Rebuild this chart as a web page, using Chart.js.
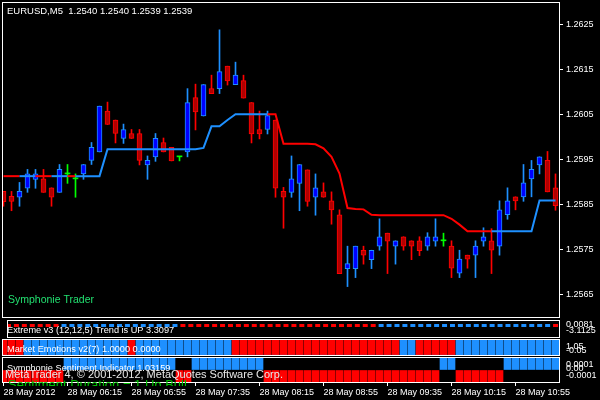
<!DOCTYPE html>
<html>
<head>
<meta charset="utf-8">
<script src="https://cdn.jsdelivr.net/npm/chart.js@4.4.0/dist/chart.umd.min.js"></script>
<style>
html, body { margin: 0; padding: 0; background: #000; }
#wrap { position: relative; width: 600px; height: 400px; overflow: hidden; background: #000; }
#wrap canvas { position: absolute; left: 0; top: 0; }
</style>
</head>
<body>
<div id="wrap">
  <canvas id="cMain" width="600" height="400"></canvas>
  <canvas id="cExt" width="600" height="400"></canvas>
  <canvas id="cEmo" width="600" height="400"></canvas>
  <canvas id="cSent" width="600" height="400"></canvas>
</div>
<script>
// EURUSD M5, 70 bars
var opens = [1.25879,1.25868,1.25866,1.25886,1.25906,1.25907,1.25887,1.25877,1.25918,1.25907,
  1.25918,1.25948,1.25967,1.26058,1.26038,1.25997,1.26008,1.26008,1.25938,1.25956,
  1.25988,1.25977,1.25956,1.25967,1.26088,1.26047,1.26108,1.26108,1.26158,1.26117,
  1.26126,1.26077,1.26017,1.26017,1.26038,1.25879,1.25877,1.25897,1.25927,1.25866,
  1.25878,1.25858,1.25827,1.25707,1.25707,1.25748,1.25727,1.25757,1.25786,1.25757,
  1.25778,1.25769,1.25769,1.25757,1.25768,1.25769,1.25757,1.25697,1.25737,1.25737,
  1.25768,1.25769,1.25757,1.25827,1.25867,1.25867,1.25907,1.25938,1.25948,1.25887];
var highs = [1.25879,1.25879,1.25899,1.25928,1.25928,1.25928,1.25887,1.25939,1.25939,1.25918,
  1.25939,1.25988,1.26069,1.26078,1.26038,1.26029,1.26017,1.26017,1.25958,1.26008,
  1.25998,1.25977,1.25956,1.26108,1.26118,1.26117,1.26138,1.26239,1.26158,1.26167,
  1.26138,1.26077,1.26058,1.26058,1.26038,1.25888,1.25958,1.25939,1.25927,1.25918,
  1.25898,1.25878,1.25838,1.25757,1.25757,1.25757,1.25748,1.25818,1.25786,1.25769,
  1.25778,1.25769,1.25778,1.25787,1.25818,1.25786,1.25769,1.25748,1.25737,1.25769,
  1.25798,1.25796,1.25858,1.25887,1.25867,1.25939,1.25948,1.25956,1.25968,1.25918];
var lows = [1.25846,1.25836,1.25846,1.25877,1.25886,1.25877,1.25846,1.25877,1.25897,1.25866,
  1.25906,1.25939,1.25967,1.26028,1.25987,1.25986,1.25997,1.25938,1.25906,1.25946,
  1.25967,1.25947,1.25947,1.25956,1.26016,1.26047,1.26097,1.26097,1.26116,1.26117,
  1.26087,1.25987,1.25996,1.26007,1.25866,1.25797,1.25866,1.25836,1.25846,1.25826,
  1.25866,1.25806,1.25696,1.25667,1.25687,1.25717,1.25707,1.25748,1.25696,1.25717,
  1.25748,1.25727,1.25736,1.25748,1.25757,1.25757,1.25687,1.25687,1.25708,1.25687,
  1.25757,1.25696,1.25737,1.25817,1.25838,1.25857,1.25867,1.25918,1.25878,1.25837];
var closes = [1.25856,1.25857,1.25879,1.25918,1.25918,1.25877,1.25866,1.25928,1.25918,1.25907,
  1.25939,1.25977,1.26069,1.26028,1.26008,1.26017,1.25997,1.25948,1.25948,1.25997,
  1.25967,1.25947,1.25956,1.26077,1.26056,1.26117,1.26097,1.26146,1.26125,1.26138,
  1.26087,1.26007,1.26007,1.26048,1.25886,1.25866,1.25907,1.25939,1.25857,1.25887,
  1.25866,1.25838,1.25696,1.25718,1.25757,1.25737,1.25748,1.25778,1.25768,1.25769,
  1.25757,1.25757,1.25747,1.25778,1.25778,1.25769,1.25708,1.25728,1.25728,1.25757,
  1.25778,1.25748,1.25838,1.25858,1.25858,1.25898,1.25928,1.25956,1.25878,1.25847];

// trailing stop line of "Symphonie Trader" and its colour (1 = up/blue, -1 = down/red)
var stopLine = [1.25913,1.25913,1.25913,1.25913,1.25913,1.25913,1.25913,1.25913,1.25913,1.25913,
  1.25913,1.25913,1.25913,1.25973,1.25973,1.25973,1.25973,1.25973,1.25973,1.25973,
  1.25973,1.25973,1.25973,1.25973,1.25973,1.25976,1.26024,1.26024,1.26038,1.26051,
  1.26051,1.26051,1.26051,1.26051,1.26051,1.25985,1.25985,1.25985,1.25985,1.25984,
  1.25975,1.25956,1.25919,1.25842,1.25840,1.25839,1.25827,1.25826,1.25826,1.25826,
  1.25826,1.25826,1.25826,1.25826,1.25826,1.25826,1.25818,1.25805,1.25790,1.25790,
  1.25790,1.25790,1.25790,1.25790,1.25790,1.25790,1.25790,1.25859,1.25859,1.25859];
var stopTrend = [-1,-1,1,1,-1,-1,1,1,-1,1, 1,1,1,1,1,1,1,1,1,1, 1,1,1,1,1,1,1,1,1,1,
  1,1,1,-1,-1,-1,-1,-1,-1,-1, -1,-1,-1,-1,-1,-1,-1,-1,-1,-1, -1,-1,-1,-1,-1,-1,-1,-1,-1,-1,
  -1,1,1,1,1,1,1,1,1,1];

// Extreme v3 trend dashes
var extremeTrend = [-1,-1,-1,-1,-1,-1,-1,1,1,1, 1,1,1,1,1,1,1,1,1,1, 1,1,-1,-1,-1,-1,-1,-1,-1,-1,
  -1,-1,-1,-1,-1,-1,-1,-1,-1,-1, -1,-1,-1,-1,-1,-1,-1,1,1,1, 1,1,1,1,1,1,1,1,1,1,
  1,1,1,1,1,1,1,1,1,-1];
var extremeLevel = -0.95;

// Market Emotions v2(7): 1 = bull block, -1 = bear block
var emotions = [-1,-1,-1,1,1,1,1,1,1,1, 1,1,1,1,1,1,-1,1,1,1, 1,1,1,1,1,1,1,1,1,-1,
  -1,-1,-1,-1,-1,-1,-1,-1,-1,-1, -1,-1,-1,-1,-1,-1,-1,-1,-1,-1, 1,1,-1,-1,-1,-1,-1,1,1,1,
  1,1,1,1,1,1,1,1,1,1];

// Symphonie Sentiment histogram
var sentiment = [-0.0001,-0.0001,-0.0001,-0.0001,-0.0001,-0.0001,-0.0001,-0.0001,0.0001,0.0001,
  0.0001,0.0001,0.0001,0.0001,0.0001,0.0001,0.0001,0.0001,0.0001,0.0001,
  0.0001,0.0001,-0.0001,-0.0001,0.0001,0.0001,0.0001,0.0001,0.0001,0.0001,
  0.0001,0.0001,0.0001,-0.0001,-0.0001,-0.0001,-0.0001,-0.0001,-0.0001,-0.0001,
  -0.0001,-0.0001,-0.0001,-0.0001,-0.0001,-0.0001,-0.0001,-0.0001,-0.0001,-0.0001,
  -0.0001,-0.0001,-0.0001,-0.0001,-0.0001,0.0001,0.0001,-0.0001,-0.0001,-0.0001,
  -0.0001,-0.0001,-0.0001,0.0001,0.0001,0.0001,0.0001,0.0001,0.0001,0.0001];

var priceTicks = [1.2565, 1.2575, 1.2585, 1.2595, 1.2605, 1.2615, 1.2625];
var timeTickBars = [0, 8, 16, 24, 32, 40, 48, 56, 64];
var timeLabels = ["28 May 2012", "28 May 06:15", "28 May 06:55", "28 May 07:35", "28 May 08:15",
  "28 May 08:55", "28 May 09:35", "28 May 10:15", "28 May 10:55"];

var extLabels = ["0.0081", "-3.1125"];
var emoLabels = ["1.05", "-0.05"];
var sentLabels = ["0.0001", "0.00", "-0.0001"];

var RED = '#ff0000', BLUE = '#1e90ff';
var X_MIN = -0.1875, X_MAX = 69.5625;
var FONT = '"Liberation Sans", Arial, sans-serif';

Chart.defaults.font.family = FONT;
Chart.defaults.font.size = 9;
Chart.defaults.color = '#ffffff';

function candleKind(i) {
  if (closes[i] > opens[i]) return 1;
  if (closes[i] < opens[i]) return -1;
  return 0;
}

function hiddenX() {
  return {
    type: 'linear', min: X_MIN, max: X_MAX, display: false, offset: false,
    afterFit: function (s) { s.height = 0; s.paddingLeft = 0; s.paddingRight = 0; }
  };
}

function sideY(min, max) {
  return {
    position: 'right', min: min, max: max,
    grid: { drawOnChartArea: false, drawTicks: false },
    border: { display: false },
    ticks: { display: false },
    afterFit: function (s) { s.width = 40; s.paddingTop = 0; s.paddingBottom = 0; }
  };
}

var frame = {
  id: 'frame',
  afterDraw: function (chart) {
    var a = chart.chartArea, ctx = chart.ctx;
    ctx.save();
    ctx.strokeStyle = '#ffffff';
    ctx.lineWidth = 1;
    ctx.strokeRect(a.left + 0.5, a.top + 0.5, a.right - a.left - 1, a.bottom - a.top - 1);
    ctx.restore();
  }
};

function notes(items) {
  return {
    id: 'notes',
    afterDraw: function (chart) {
      var ctx = chart.ctx;
      items.forEach(function (t) {
        ctx.save();
        if (t.clip) {
          ctx.beginPath();
          ctx.rect(t.clip[0], t.clip[1], t.clip[2], t.clip[3]);
          ctx.clip();
        }
        ctx.font = t.font;
        ctx.fillStyle = t.color || '#ffffff';
        ctx.textBaseline = 'middle';
        ctx.textAlign = 'left';
        ctx.fillText(t.text, t.x, t.y);
        ctx.restore();
      });
    }
  };
}

// MT4 squeezes the min/max labels of a small window inside it, so they overlap
function sideLabels(texts, ys) {
  return {
    id: 'sideLabels',
    afterDraw: function (chart) {
      var ctx = chart.ctx, a = chart.chartArea;
      ctx.save();
      ctx.font = '9px ' + FONT;
      ctx.fillStyle = '#ffffff';
      ctx.textBaseline = 'middle';
      texts.forEach(function (t, k) { ctx.fillText(t, a.right + 6, ys[k]); });
      ctx.restore();
    }
  };
}

function baseOptions(pad) {
  return {
    responsive: false,
    animation: false,
    events: [],
    layout: { padding: pad },
    plugins: { legend: { display: false }, tooltip: { enabled: false } }
  };
}

// ---------- main price window ----------
var idx = opens.map(function (v, i) { return i; });

var mainOpts = baseOptions({ left: 2, top: 2, right: 0, bottom: 82 });
mainOpts.scales = {
  x: hiddenX(),
  y: {
    position: 'right', min: 1.25597, max: 1.26301,
    afterBuildTicks: function (s) { s.ticks = priceTicks.map(function (v) { return { value: v }; }); },
    ticks: { padding: 3, color: '#ffffff', callback: function (v) { return Number(v).toFixed(4); } },
    grid: { drawOnChartArea: false, drawTicks: true, tickLength: 3, color: '#ffffff' },
    border: { display: false },
    afterFit: function (s) { s.width = 40; s.paddingTop = 0; s.paddingBottom = 0; }
  }
};

new Chart(document.getElementById('cMain'), {
  data: {
    datasets: [
      {
        type: 'line', order: 0,
        data: idx.map(function (i) { return { x: i, y: stopLine[i] }; }),
        borderWidth: 2, pointRadius: 0, tension: 0, borderColor: BLUE,
        segment: { borderColor: function (c) { return stopTrend[c.p0DataIndex] > 0 ? BLUE : RED; } }
      },
      {
        type: 'bar', order: 1, grouped: false, barThickness: 5, minBarLength: 1,
        data: idx.map(function (i) { return { x: i, y: [opens[i], closes[i]] }; }),
        backgroundColor: idx.map(function (i) { var k = candleKind(i); return k > 0 ? '#0000ff' : (k < 0 ? '#b00000' : '#00ff00'); }),
        borderColor: idx.map(function (i) { var k = candleKind(i); return k > 0 ? BLUE : (k < 0 ? RED : '#00ff00'); }),
        borderWidth: idx.map(function (i) { return candleKind(i) === 0 ? 0 : 1; }),
        borderSkipped: false
      },
      {
        type: 'bar', order: 2, grouped: false, barThickness: 1,
        data: idx.map(function (i) { return { x: i, y: [lows[i], highs[i]] }; }),
        backgroundColor: idx.map(function (i) { var k = candleKind(i); return k > 0 ? BLUE : (k < 0 ? RED : '#00ff00'); })
      }
    ]
  },
  options: mainOpts,
  plugins: [frame, notes([
    { text: 'EURUSD,M5  1.2540 1.2540 1.2539 1.2539', x: 7, y: 11, font: '9.5px ' + FONT, color: '#ffffff' },
    { text: 'Symphonie Trader', x: 8, y: 300, font: '10.5px ' + FONT, color: '#22e070' }
  ])]
});

// ---------- Extreme v3 ----------
var extOpts = baseOptions({ left: 2, top: 320, right: 0, bottom: 62 });
extOpts.scales = { x: hiddenX(), y: sideY(-3.1125, 0.0081) };
new Chart(document.getElementById('cExt'), {
  type: 'line',
  data: {
    datasets: [{
      data: idx.map(function (i) { return { x: i, y: extremeLevel }; }),
      showLine: false, pointStyle: 'line', pointRadius: 2.5, pointBorderWidth: 3,
      pointBorderColor: extremeTrend.map(function (d) { return d > 0 ? BLUE : RED; })
    }]
  },
  options: extOpts,
  plugins: [frame, sideLabels(extLabels, [325, 330.5]), notes([
    { text: 'Extreme v3 (12,12,5) Trend is UP 3.3097', x: 7, y: 330, font: '9.2px ' + FONT }
  ])]
});

// ---------- Market Emotions ----------
var emoOpts = baseOptions({ left: 2, top: 339, right: 0, bottom: 44 });
emoOpts.scales = { x: hiddenX(), y: sideY(-0.05, 1.05) };
new Chart(document.getElementById('cEmo'), {
  type: 'bar',
  data: {
    datasets: [
      { grouped: false, barThickness: 7, backgroundColor: BLUE,
        data: idx.map(function (i) { return { x: i, y: emotions[i] > 0 ? 1 : 0 }; }) },
      { grouped: false, barThickness: 7, backgroundColor: RED,
        data: idx.map(function (i) { return { x: i, y: emotions[i] < 0 ? 1 : 0 }; }) }
    ]
  },
  options: emoOpts,
  plugins: [frame, sideLabels(emoLabels, [346.5, 351]), notes([
    { text: 'Market Emotions v2(7) 1.0000 0.0000', x: 7, y: 349.5, font: '9.2px ' + FONT }
  ])]
});

// ---------- Symphonie Sentiment + time axis ----------
var sentOpts = baseOptions({ left: 2, top: 357, right: 0, bottom: 0 });
sentOpts.scales = {
  x: {
    type: 'linear', min: X_MIN, max: X_MAX, position: 'bottom', offset: false,
    afterBuildTicks: function (s) { s.ticks = timeTickBars.map(function (v) { return { value: v }; }); },
    ticks: {
      align: 'start', padding: 1, autoSkip: false, maxRotation: 0, minRotation: 0, color: '#ffffff',
      callback: function (v, i) { return timeLabels[i]; }
    },
    grid: { drawOnChartArea: false, drawTicks: true, tickLength: 3, color: '#ffffff', offset: false },
    border: { display: false },
    afterFit: function (s) { s.height = 17; s.paddingLeft = 0; s.paddingRight = 0; }
  },
  y: sideY(-0.0001, 0.0001)
};
new Chart(document.getElementById('cSent'), {
  type: 'bar',
  data: {
    datasets: [{
      grouped: false, barThickness: 7,
      data: idx.map(function (i) { return { x: i, y: sentiment[i] }; }),
      backgroundColor: sentiment.map(function (v) { return v > 0 ? BLUE : RED; })
    }]
  },
  options: sentOpts,
  plugins: [frame, sideLabels(sentLabels, [365, 368.5, 375.5]), notes([
    { text: 'Symphonie Sentiment Indicator 1.03159', x: 7, y: 368, font: '9.2px ' + FONT },
    { text: 'MetaTrader 4, \u00a9 2001-2012, MetaQuotes Software Corp.', x: 5, y: 375, font: '11px ' + FONT, color: '#e8e8e8' },
    { text: 'Sentiment Duration = 1 Up Bull', x: 8, y: 385, font: '13px ' + FONT, color: '#00c000', clip: [0, 370, 560, 16] }
  ])]
});
</script>
</body>
</html>
